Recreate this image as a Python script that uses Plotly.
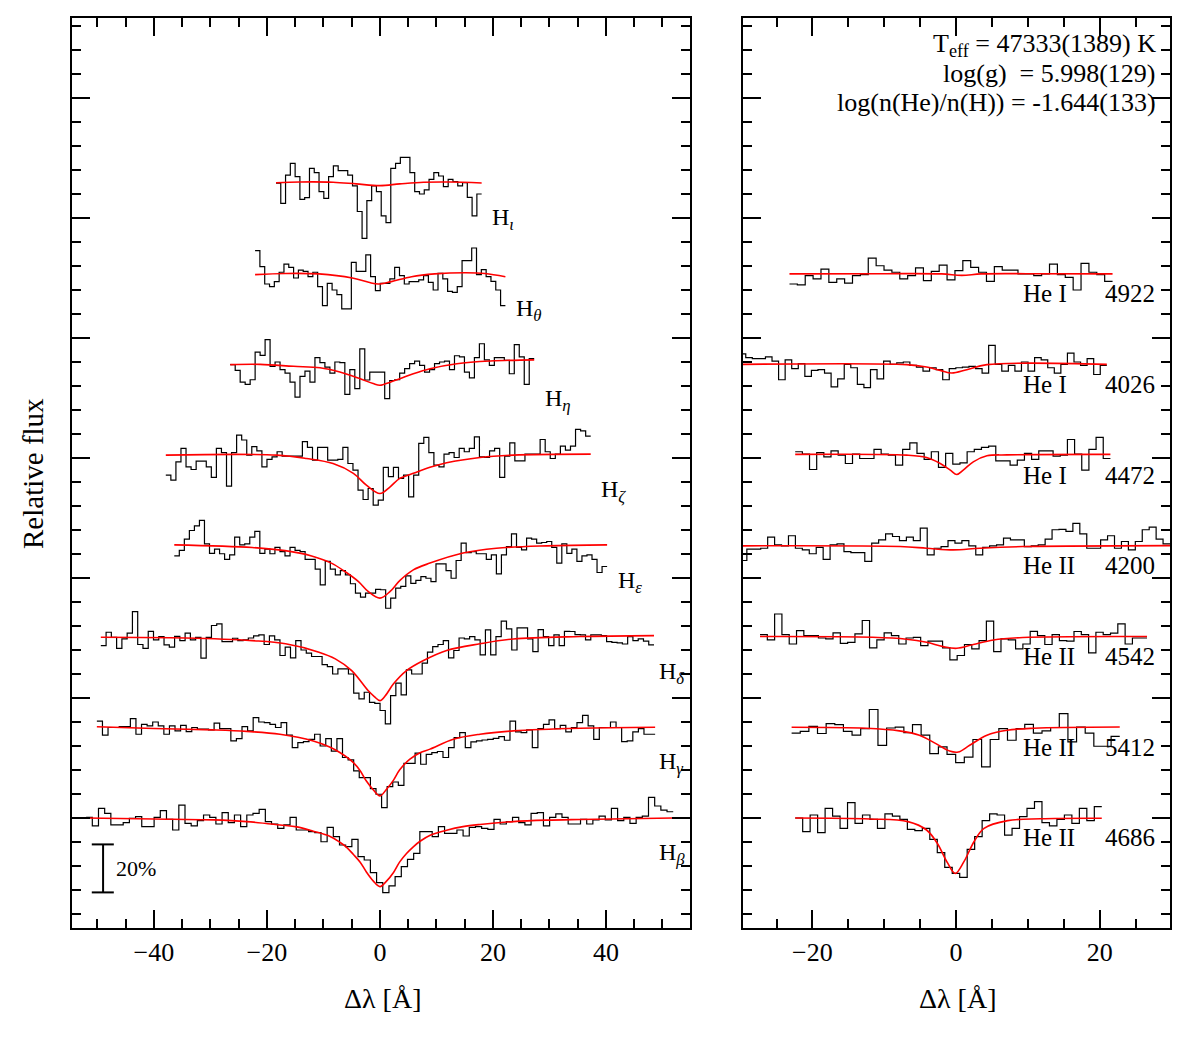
import numpy as np
import plotly.graph_objects as go

# ---------------------------------------------------------------
# DATA  (relative flux in % of continuum, Δλ in Å)
# ---------------------------------------------------------------
# Balmer lines (left panel) - observed spectra, coverage [start, end]
hbeta_range = [-52.0, 51.9]
hbeta_flux = [100.3, 96.7, 104.0, 101.9, 97.1, 97.1, 98.1, 99.9, 100.6, 96.4, 96.4, 100.3, 103.1, 99.4, 95.0,
              105.4, 97.8, 96.7, 98.9, 101.25, 100.3, 97.5, 102.2, 98.1, 101.25, 96.4, 101.25, 101.9, 103.6, 98.5,
              97.5, 95.7, 97.1, 100.3, 95.0, 95.0, 94.3, 93.9, 90.1, 96.1, 92.2, 88.75, 88.1, 91.1, 83.9, 82.5,
              77.2, 73.1, 68.9, 71.7, 75.6, 79.7, 82.8, 85.3, 94.3, 94.3, 92.2, 96.4, 93.6, 93.6, 95.0, 92.5,
              96.1, 96.4, 95.7, 95.3, 99.4, 97.5, 98.5, 100.3, 98.1, 97.1, 101.9, 102.2, 96.7, 100.3, 101.7,
              100.3, 97.5, 97.5, 99.4, 97.5, 99.2, 100.8, 99.2, 104.0, 98.9, 100.3, 97.8, 100.3, 100.8, 108.6,
              105.0, 103.3, 102.6]
hbeta_model_dl = [-52, -40, -29.5, -23.6, -17.7, -14.7, -11.8, -8.9, -7.1, -5.9, -4.7, -3.5, -2.4, -1.2, 0,
                  1.2, 2.4, 3.5, 4.7, 5.9, 7.1, 8.9, 11.8, 14.7, 17.7, 23.6, 29.5, 35.4, 51.9]
hbeta_model_flux = [100, 99.6, 99.2, 98.5, 97.1, 96.3, 94.5, 92.4, 89.9, 87.8, 84.8, 81.6, 77.5, 73.8, 71.4,
                    73.8, 77.3, 81.7, 85.2, 88.0, 90.3, 92.8, 94.9, 96.4, 97.3, 98.5, 99.1, 99.4, 100]

hgamma_range = [-50.1, 48.7]
hgamma_flux = [102.6, 96.7, 99.9, 99.9, 100.3, 100.3, 103.6, 97.1, 101.25, 100.6, 102.2, 100.6, 97.1, 100.6,
               98.5, 100.8, 98.2, 99.9, 99.2, 99.2, 98.9, 101.7, 99.4, 99.4, 94.3, 95.3, 100.3, 98.5, 104.0,
               102.2, 101.9, 101.25, 99.9, 101.9, 96.7, 91.5, 93.6, 94.0, 95.0, 97.1, 92.2, 95.3, 90.1, 95.3,
               87.4, 86.4, 81.8, 79.0, 79.0, 74.4, 72.1, 66.5, 75.3, 77.2, 75.8, 85.0, 85.0, 89.2, 84.6, 88.75,
               89.4, 89.9, 87.4, 91.5, 95.7, 97.8, 91.5, 93.9, 94.3, 94.7, 95.0, 95.4, 96.1, 94.6, 102.6, 98.1,
               97.8, 98.9, 91.5, 99.4, 101.25, 103.1, 99.4, 100.8, 98.1, 99.9, 101.9, 105.0, 100.6, 95.0, 99.9,
               99.9, 102.2, 99.9, 94.0, 94.3, 98.1, 99.4, 97.1, 97.1]
hgamma_model_dl = [-50.1, -40, -29.5, -23.6, -17.7, -11.8, -8.9, -7.1, -4.7, -3.5, -2.4, -1.2, 0, 1.2, 2.4,
                   3.5, 5.3, 7.1, 8.85, 13, 17.7, 23.6, 35.4, 48.7]
hgamma_model_flux = [100.2, 99.5, 98.9, 98.3, 97.1, 94.3, 91.8, 89.5, 85.3, 81.9, 77.6, 74.0, 71.4, 74.3,
                     78.0, 82.3, 86.7, 89.4, 90.9, 95.0, 97.1, 98.5, 99.6, 100]

hdelta_range = [-49.4, 48.5]
hdelta_flux = [96.25, 101.8, 99.7, 95.1, 99.0, 101.4, 110.4, 96.7, 95.1, 102.2, 98.6, 100, 96.5, 95.6, 100.1,
               98.3, 101.4, 98.6, 99.7, 91.0, 99.7, 104.6, 105.3, 97.9, 97.9, 99.3, 98.3, 98.6, 99.4, 100.3,
               100.7, 96.7, 100.3, 98.6, 92.1, 95.6, 91.1, 98.3, 94.4, 93.1, 91.7, 91.7, 88.3, 87.5, 84.4, 86.5,
               86.5, 84.4, 76.4, 74.0, 76.8, 72.6, 72.2, 69.2, 63.6, 75.4, 80.6, 75.7, 86.1, 84.4, 84.4, 88.9,
               93.5, 95.8, 96.7, 98.3, 91.1, 94.2, 99.4, 99.0, 100, 98.6, 92.4, 102.8, 92.4, 100, 106.4, 103.2,
               94.4, 103.6, 103.6, 99.0, 93.75, 102.9, 100, 96.25, 100.7, 96.25, 102.2, 102.1, 100.8, 100.7,
               98.6, 100.7, 100.7, 100.4, 97.9, 97.6, 97.4, 96.9, 100, 98.3, 99.0, 98.1, 96.5]
hdelta_model_dl = [-49.4, -34.4, -22.6, -16.7, -10.8, -7.9, -5.0, -2.1, -1.0, 0, 1.0, 2.4, 4.7, 7.7, 11.8,
                   17.7, 23.6, 35.4, 48.5]
hdelta_model_flux = [99.7, 99.4, 98.3, 97.0, 93.5, 90.7, 85.8, 77.5, 75.0, 73.3, 75.5, 80.3, 85.8, 90.0, 94.2,
                     97.0, 99.0, 100, 100.4]

hepsilon_range = [-36.4, 40.2]
hepsilon_flux = [95.8, 98.1, 102.8, 106.4, 108.3, 110.6, 100.8, 96.9, 98.6, 96.7, 94.4, 96.25, 103.6, 100.4,
                 100.8, 103.6, 106.0, 96.9, 98.6, 96.7, 99.4, 97.6, 95.8, 99.4, 98.1, 97.6, 94.4, 94.4, 90.3,
                 83.75, 93.5, 90.3, 87.9, 89.7, 87.9, 84.2, 80.3, 78.6, 80.3, 80.3, 81.9, 81.7, 74.0, 78.2, 82.4,
                 83.1, 87.5, 84.4, 85.6, 87.2, 86.5, 85.1, 92.5, 92.5, 89.7, 86.5, 93.9, 101.1, 97.2, 97.6, 96.7,
                 96.7, 94.4, 96.25, 88.3, 96.25, 99.7, 105.0, 99.4, 98.3, 103.2, 102.8, 101.1, 101.4, 101.8, 99.4,
                 92.8, 100.8, 96.9, 98.6, 93.5, 95.8, 96.25, 94.4, 88.9, 91.4]
hepsilon_model_dl = [-36.4, -22.6, -16.8, -12.1, -8.6, -6.2, -3.8, -2.1, 0, 1.8, 3.5, 5.9, 8.85, 14.7, 20.6,
                     29.5, 40.2]
hepsilon_model_flux = [100.4, 99.3, 98.0, 95.8, 92.8, 89.3, 85.1, 81.0, 78.2, 81.0, 85.5, 90.0, 92.8, 97.0,
                       99.0, 100, 100.4]

hzeta_range = [-37.9, 37.3]
hzeta_flux = [91.7, 89.6, 97.2, 102.8, 95.1, 94.0, 97.5, 97.5, 95.1, 90.7, 102.8, 101.0, 87.1, 101.0, 108.3,
              106.3, 100.0, 103.5, 101.8, 95.1, 98.2, 99.3, 101.4, 99.6, 99.6, 99.6, 99.6, 105.6, 103.2, 97.9,
              103.2, 103.2, 97.9, 97.9, 98.2, 103.2, 96.5, 93.75, 85.4, 81.5, 86.1, 79.2, 81.25, 94.9, 91.0,
              94.9, 90.3, 91.7, 82.6, 91.7, 104.9, 107.4, 101.0, 95.8, 95.1, 100.4, 101.0, 99.0, 102.8, 101.4,
              102.8, 107.6, 99.3, 99.0, 101.8, 102.8, 90.7, 99.6, 105.1, 97.6, 97.6, 100.4, 100.4, 100.4, 106.5,
              101.4, 98.6, 100.4, 103.75, 102.1, 103.75, 110.7, 110.1, 107.9]
hzeta_model_dl = [-37.9, -18.3, -13, -8.3, -4.7, -2.4, 0, 1.8, 3.5, 5.9, 8.85, 11.8, 17.7, 23.6, 37.3]
hzeta_model_flux = [100, 100, 98.6, 96.5, 92.4, 87.5, 84.0, 86.8, 90.3, 92.4, 94.9, 96.8, 99.0, 100, 100.4]

heta_range = [-26.5, 27.3]
heta_flux = [99.9, 97.5, 92.6, 91.7, 93.6, 105.1, 103.8, 110.3, 99.2, 101.0, 97.8, 96.4, 92.6, 86.4, 95.0,
             97.2, 92.6, 102.8, 100.7, 98.9, 96.4, 101.0, 100.7, 87.5, 97.8, 89.9, 106.5, 93.5, 96.8, 96.8,
             96.8, 85.7, 93.3, 93.6, 96.4, 98.2, 100.3, 101.4, 99.6, 96.8, 97.8, 100.3, 101.0, 101.4, 97.8,
             103.6, 103.1, 96.8, 94.4, 102.8, 108.6, 101.9, 99.6, 102.8, 102.8, 101.7, 96.1, 108.2, 103.1, 91.7,
             102.4]
heta_model_dl = [-26.5, -21.2, -15.3, -10.6, -7.1, -3.5, -1.2, 0, 1.8, 3.5, 5.9, 8.85, 13.6, 19.5, 27.3]
heta_model_flux = [99.9, 100, 99.2, 98.6, 96.8, 94.0, 92.0, 91.3, 92.6, 94.0, 96.1, 98.2, 100.3, 101.4, 101.9]

htheta_range = [-22.1, 22.2]
htheta_flux = [109.6, 102.9, 95.7, 94.6, 96.7, 100.6, 104.0, 102.6, 98.2, 101.5, 101.0, 98.75, 100.6, 94.6,
               86.7, 96.0, 93.2, 91.25, 85.3, 85.3, 104.7, 101.0, 101.0, 107.8, 98.75, 92.9, 96.0, 96.0, 97.8,
               102.6, 99.2, 95.7, 96.7, 96.7, 97.4, 99.2, 96.4, 93.2, 100.1, 97.8, 92.6, 92.2, 94.6, 105.4,
               105.4, 110.7, 99.6, 101.7, 98.75, 96.8, 93.2, 86.7]
htheta_model_dl = [-22.1, -16.7, -10.8, -4.9, -2.0, -0.3, 2.0, 5.6, 9.7, 15.0, 18.6, 22.2]
htheta_model_flux = [99.6, 100.1, 99.9, 98.2, 96.4, 95.7, 96.7, 98.75, 99.9, 100.4, 100.1, 98.75]

hiota_range = [-18.4, 18.0]
hiota_flux = [99.9, 91.5, 103.3, 108.2, 102.6, 93.2, 93.9, 106.1, 104.3, 96.4, 93.6, 102.6, 107.1, 105.1,
              105.1, 103.3, 98.8, 88.1, 76.9, 92.6, 98.8, 96.4, 86.3, 83.5, 106.1, 108.2, 110.7, 110.7, 104.3,
              96.4, 95.4, 97.1, 101.5, 104.3, 102.9, 98.5, 101.5, 100.6, 98.8, 100.1, 94.0, 86.3, 95.4]
hiota_model_dl = [-18.4, -14.2, -8.3, -4.2, 0, 3.5, 7.7, 12.4, 18.0]
hiota_model_flux = [100.1, 100.4, 100.3, 99.6, 98.9, 99.6, 100.3, 100.4, 100]

# Helium lines (right panel)
he4686_range = [-22.4, 20.3]
he4686_flux = [100, 94.3, 101.25, 93.9, 104.0, 100.8, 95.7, 106.4, 97.8, 101.25, 99.4, 95.7, 101.7, 100.8,
               99.4, 95.3, 94.7, 95.7, 91.1, 85.6, 79.4, 76.9, 75.3, 86.9, 92.2, 98.9, 101.7, 101.25, 92.9,
               95.7, 100.6, 104.0, 106.8, 98.1, 96.7, 99.4, 101.25, 97.8, 104.0, 98.9, 104.7]
he4686_model_dl = [-22.4, -12, -6.7, -4.1, -2.6, -1.2, -0.1, 1.1, 2.5, 3.9, 7.2, 11.8, 20.3]
he4686_model_flux = [100, 99.6, 98.5, 95.0, 89.4, 81.4, 76.9, 81.8, 90.1, 95.7, 98.9, 99.7, 99.9]

he5412_range = [-22.9, 22.8]
he5412_flux = [97.6, 98.3, 100.4, 97.4, 101.5, 101.1, 98.3, 96.7, 99.4, 107.4, 92.5, 99.7, 100.1, 97.8, 101.1,
               96.7, 89.0, 91.8, 88.75, 85.3, 87.6, 94.9, 83.5, 94.9, 99.4, 94.6, 99.4, 101.25, 97.6, 98.5, 99.9,
               105.7, 93.9, 100.1, 97.6, 92.1, 92.1, 96.25]
he5412_model_dl = [-22.9, -12.5, -7.9, -5.1, -2.8, -0.9, 0.3, 1.9, 4.3, 7.1, 10.8, 22.8]
he5412_model_flux = [100, 99.6, 98.5, 96.7, 93.2, 90.1, 89.7, 92.5, 96.7, 98.75, 99.6, 100.1]

he4542_range = [-27.3, 26.6]
he4542_flux = [100.8, 98.6, 109.4, 100.8, 96.9, 102.5, 100.4, 100.4, 99.4, 99.0, 101.5, 97.2, 97.6, 101.1,
               106.7, 95.3, 98.6, 101.5, 100.4, 96.9, 99.4, 99.7, 96.25, 98.1, 98.1, 95.3, 90.3, 92.1, 96.7, 94.9,
               98.3, 106.4, 93.75, 99.0, 98.6, 94.9, 96.9, 102.2, 100.4, 96.7, 100.8, 98.3, 98.1, 102.1, 100.8,
               93.2, 101.8, 100.8, 101.4, 105.3, 96.9, 99.4, 99.4]
he4542_model_dl = [-27.3, -11.6, -6.9, -4.1, -1.8, 0.1, 2.4, 5.2, 9.3, 26.6]
he4542_model_flux = [100, 99.7, 98.9, 97.6, 95.8, 95.1, 96.7, 98.6, 99.6, 100]

he4200_range = [-30.1, 29.8]
he4200_flux = [93.9, 98.6, 98.6, 99.0, 103.6, 100.4, 100, 104.2, 99.0, 98.3, 96.7, 99.4, 94.4, 100.4, 100.8,
               97.6, 97.2, 97.2, 93.5, 101.1, 102.5, 105.0, 103.9, 102.2, 103.6, 102.2, 107.4, 96.25, 99.0, 99.7,
               102.2, 101.1, 102.2, 100, 96.25, 99.4, 100, 100.4, 103.2, 102.5, 102.5, 99.7, 100, 100.4, 102.8,
               106.7, 106.9, 106.0, 109.4, 105.0, 99.0, 99.0, 102.5, 104.2, 99.0, 101.8, 98.3, 101.8, 106.7,
               107.8, 102.8, 100.8]
he4200_model_dl = [-30.1, -7.8, -4.1, -0.4, 3.3, 9.3, 29.8]
he4200_model_flux = [100, 99.7, 99.0, 98.3, 99.0, 99.7, 100.1]

he4472_range = [-22.4, 21.5]
he4472_flux = [101.4, 100.4, 94.0, 101.0, 99.3, 101.8, 100, 96.5, 100.4, 98.6, 98.6, 102.4, 100.4, 100, 95.8,
               102.4, 105.1, 100.7, 98.2, 101.4, 94.9, 100.7, 96.25, 96.8, 101.4, 102.4, 103.2, 103.75, 97.6,
               97.6, 95.8, 97.9, 100.7, 98.2, 101.8, 101.8, 99.6, 100, 106.5, 100.4, 93.75, 102.4, 107.4, 98.6]
he4472_model_dl = [-22.4, -6.9, -4.1, -2.2, -0.8, 0.1, 1.0, 2.4, 4.3, 7.1, 21.5]
he4472_model_flux = [100.3, 100, 99.0, 96.5, 93.75, 91.9, 93.75, 97.2, 99.7, 100.1, 100.3]

he4026_range = [-30.2, 21.0]
he4026_flux = [104.4, 102.8, 102.4, 102.4, 103.1, 101.4, 93.6, 101.9, 98.2, 100.3, 95.0, 97.5, 97.8, 96.4,
               90.6, 94.0, 100, 98.6, 91.7, 90.3, 97.8, 94.0, 101.4, 100, 100.6, 101.0, 99.6, 98.9, 97.2, 98.6,
               97.8, 93.6, 98.2, 98.6, 98.9, 99.2, 98.2, 96.4, 107.9, 100, 97.2, 99.6, 97.2, 101.0, 97.2, 102.8,
               101.9, 98.6, 96.4, 100, 104.7, 101.0, 99.6, 102.4, 95.8, 99.6]
he4026_model_dl = [-30.2, -6.9, -4.1, -2.2, -0.6, 1.5, 4.3, 21.0]
he4026_model_flux = [100, 99.9, 98.9, 97.5, 96.4, 97.8, 99.9, 100]

he4922_range = [-23.2, 21.8]
he4922_flux = [95.7, 95.3, 99.2, 97.8, 101.9, 96.4, 97.8, 96.1, 99.2, 99.6, 106.5, 103.3, 101.5, 100.6, 97.8,
               99.2, 102.4, 97.1, 101.0, 103.6, 97.4, 101.25, 105.4, 102.6, 100.6, 96.8, 102.9, 101.5, 101.5,
               99.9, 99.9, 99.2, 99.9, 104.0, 99.6, 98.5, 93.2, 104.3, 100.6, 99.6, 96.8]
he4922_model_dl = [-23.2, -10, -2, 0.8, 3.5, 10, 21.8]
he4922_model_flux = [99.9, 100, 99.9, 99.3, 99.9, 100, 99.9]

balmer_symbols = ["β", "γ", "δ", "ε", "ζ", "η", "θ", "ι"]
helium_ions = ["He II", "He II", "He II", "He II", "He I", "He I", "He I"]
helium_wavelengths = ["4686", "5412", "4542", "4200", "4472", "4026", "4922"]

fit_text = ["T<sub>eff</sub> = 47333(1389) K",
            "log(g) \u00a0= 5.998(129)",
            "log(n(He)/n(H)) = -1.644(133)"]

# ---------------------------------------------------------------
balmer = [
    (hbeta_range, hbeta_flux, hbeta_model_dl, hbeta_model_flux),
    (hgamma_range, hgamma_flux, hgamma_model_dl, hgamma_model_flux),
    (hdelta_range, hdelta_flux, hdelta_model_dl, hdelta_model_flux),
    (hepsilon_range, hepsilon_flux, hepsilon_model_dl, hepsilon_model_flux),
    (hzeta_range, hzeta_flux, hzeta_model_dl, hzeta_model_flux),
    (heta_range, heta_flux, heta_model_dl, heta_model_flux),
    (htheta_range, htheta_flux, htheta_model_dl, htheta_model_flux),
    (hiota_range, hiota_flux, hiota_model_dl, hiota_model_flux),
]
helium = [
    (he4686_range, he4686_flux, he4686_model_dl, he4686_model_flux),
    (he5412_range, he5412_flux, he5412_model_dl, he5412_model_flux),
    (he4542_range, he4542_flux, he4542_model_dl, he4542_model_flux),
    (he4200_range, he4200_flux, he4200_model_dl, he4200_model_flux),
    (he4472_range, he4472_flux, he4472_model_dl, he4472_model_flux),
    (he4026_range, he4026_flux, he4026_model_dl, he4026_model_flux),
    (he4922_range, he4922_flux, he4922_model_dl, he4922_model_flux),
]

STEP = 0.378          # vertical offset between spectra
FONT = "Liberation Serif"
W, H = 1189, 1038


def step_xy(rng, flux, off):
    n = len(flux)
    edges = np.linspace(rng[0], rng[1], n + 1)
    y = np.array(list(flux) + [flux[-1]]) / 100.0 + off
    return edges, y


fig = go.Figure()


def add_panel(spectra, xa, ya):
    for k, (rng, flux, mdl, mfl) in enumerate(spectra):
        off = k * STEP
        xe, ye = step_xy(rng, flux, off)
        fig.add_trace(go.Scatter(x=xe, y=ye, mode="lines", xaxis=xa, yaxis=ya,
                                 line=dict(color="black", width=1.2, shape="hv"),
                                 hoverinfo="skip", showlegend=False))
        fig.add_trace(go.Scatter(x=mdl, y=np.array(mfl) / 100.0 + off, mode="lines",
                                 xaxis=xa, yaxis=ya,
                                 line=dict(color="red", width=1.6, shape="spline", smoothing=1.0),
                                 hoverinfo="skip", showlegend=False))


add_panel(balmer, "x", "y")
add_panel(helium, "x2", "y2")

annotations = []
# Balmer labels
for k, (sym, (rng, flux, mdl, mfl)) in enumerate(zip(balmer_symbols, balmer)):
    lx = min(rng[1] + 1.5, 49.0)
    annotations.append(dict(x=lx, y=k * STEP + 1 - 0.15, xref="x", yref="y",
                            text=f"H<sub><i>{sym}</i></sub>", showarrow=False,
                            xanchor="left", yanchor="middle",
                            font=dict(family=FONT, size=24, color="black")))
# Helium labels
for k, (ion, wl) in enumerate(zip(helium_ions, helium_wavelengths)):
    yy = k * STEP + 1 - 0.083
    annotations.append(dict(x=9.0, y=yy, xref="x2", yref="y2", text=ion, showarrow=False,
                            xanchor="left", yanchor="middle",
                            font=dict(family=FONT, size=25, color="black")))
    annotations.append(dict(x=28.0, y=yy, xref="x2", yref="y2", text=wl, showarrow=False,
                            xanchor="right", yanchor="middle",
                            font=dict(family=FONT, size=25, color="black")))
# fit parameters
for i, (t, py) in enumerate(zip(fit_text, [45, 74, 102])):
    annotations.append(dict(x=1158 / W, y=1 - py / H, xref="paper", yref="paper", text=t,
                            showarrow=False, xanchor="right", yanchor="middle",
                            font=dict(family=FONT, size=26, color="black")))
# scale bar text
annotations.append(dict(x=-47.0, y=0.79, xref="x", yref="y", text="20%", showarrow=False,
                        xanchor="left", yanchor="middle",
                        font=dict(family=FONT, size=22, color="black")))
# axis titles
annotations.append(dict(x=382 / W, y=1 - 998 / H, xref="paper", yref="paper", text="Δλ [Å]",
                        showarrow=False, xanchor="center", yanchor="middle",
                        font=dict(family=FONT, size=28, color="black")))
annotations.append(dict(x=957 / W, y=1 - 998 / H, xref="paper", yref="paper", text="Δλ [Å]",
                        showarrow=False, xanchor="center", yanchor="middle",
                        font=dict(family=FONT, size=28, color="black")))
annotations.append(dict(x=33 / W, y=1 - 474 / H, xref="paper", yref="paper", text="Relative flux",
                        showarrow=False, xanchor="center", yanchor="middle", textangle=-90,
                        font=dict(family=FONT, size=29, color="black")))

shapes = [
    dict(type="line", xref="x", yref="y", x0=-49.0, x1=-49.0, y0=0.69, y1=0.89,
         line=dict(color="black", width=2)),
    dict(type="line", xref="x", yref="y", x0=-51.0, x1=-47.1, y0=0.69, y1=0.69,
         line=dict(color="black", width=2)),
    dict(type="line", xref="x", yref="y", x0=-51.0, x1=-47.1, y0=0.89, y1=0.89,
         line=dict(color="black", width=2)),
]

ydom = [1 - 928 / H, 1 - 18 / H]
yrange = [1 - 110 / 240, 1 + 800 / 240]

common_x = dict(ticks="inside", ticklen=18, tickwidth=2, tickcolor="black", mirror="allticks",
                showline=True, linecolor="black", linewidth=2, zeroline=False, showgrid=False,
                tick0=0, dtick=20,
                minor=dict(ticks="inside", ticklen=9, tickwidth=1.5, tickcolor="black",
                           tick0=0, dtick=5),
                tickfont=dict(family=FONT, size=26, color="black"))
common_y = dict(ticks="inside", ticklen=18, tickwidth=2, tickcolor="black", mirror="allticks",
                showline=True, linecolor="black", linewidth=2, zeroline=False, showgrid=False,
                tick0=0, dtick=0.5, showticklabels=False, range=yrange, domain=ydom,
                minor=dict(ticks="inside", ticklen=9, tickwidth=1.5, tickcolor="black",
                           tick0=0, dtick=0.1))

fig.update_layout(
    width=W, height=H, margin=dict(l=0, r=0, t=0, b=0),
    paper_bgcolor="white", plot_bgcolor="white",
    xaxis=dict(domain=[72 / W, 690 / W], range=[-54.5, 54.87], anchor="y", **common_x),
    yaxis=dict(anchor="x", **common_y),
    xaxis2=dict(domain=[743 / W, 1170 / W], range=[-29.67, 29.8], anchor="y2", **common_x),
    yaxis2=dict(anchor="x2", **common_y),
    annotations=annotations, shapes=shapes, showlegend=False,
)

fig.write_html("out.html")
